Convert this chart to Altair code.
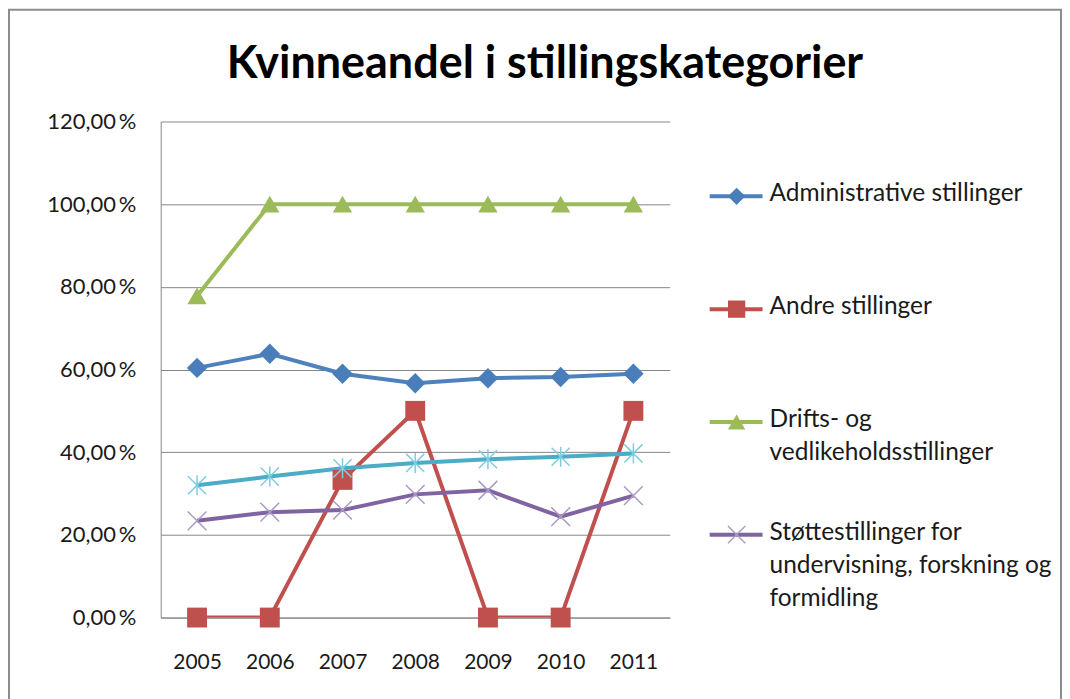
import altair as alt
import pandas as pd

years = ["2005", "2006", "2007", "2008", "2009", "2010", "2011"]
series_names = [
    "Administrative stillinger",
    "Andre stillinger",
    "Drifts- og vedlikeholdsstillinger",
    "Støttestillinger for undervisning, forskning og formidling",
    "Serie 5",
]
admin = [60.4, 63.8, 59.0, 56.7, 57.9, 58.2, 59.0]
andre = [0.0, 0.0, 33.3, 50.0, 0.0, 0.0, 50.0]
drift = [77.8, 100.0, 100.0, 100.0, 100.0, 100.0, 100.0]
stotte = [23.4, 25.5, 26.0, 29.8, 30.8, 24.4, 29.5]
serie5 = [32.0, 34.1, 36.1, 37.4, 38.3, 38.9, 39.7]
legend_labels = [
    "Administrative stillinger",
    "Andre stillinger",
    "Drifts- og|vedlikeholdsstillinger",
    "Støttestillinger for|undervisning, forskning og|formidling",
]
title_text = "Kvinneandel i stillingskategorier"

values = [admin, andre, drift, stotte, serie5]
rows = []
for name, vals in zip(series_names, values):
    for y, v in zip(years, vals):
        rows.append({"year": y, "series": name, "value": v})
df = pd.DataFrame(rows)

filled_series = series_names[:3]
outline_series = series_names[3:]

line_colors = ["#4F81BD", "#C0504D", "#9BBB59", "#8064A2", "#4BACC6"]
fill_colors = ["#4A7EBB", "#C0504D", "#9BBB59"]
outline_colors = ["#A99BC6", "#7FCCE0"]
x_path = "M-1,-1L1,1M-1,1L1,-1"
star_path = "M-1,-1L1,1M-1,1L1,-1M0,-1.1L0,1.1"
shapes = ["diamond", "square", "triangle-up", x_path, star_path]
marker_sizes = [420, 330, 380, 320, 330]
legend_marker_sizes = [300, 300, 300, 260, 260]

FONT = "Lato"
TXT = "#1a1a1a"
color_scale = alt.Scale(domain=series_names, range=line_colors)
fill_scale = alt.Scale(domain=filled_series, range=fill_colors)
stroke_scale = alt.Scale(domain=outline_series, range=outline_colors)
shape_scale = alt.Scale(domain=series_names, range=shapes)
size_scale = alt.Scale(domain=series_names, range=marker_sizes)
leg_size_scale = alt.Scale(domain=series_names, range=legend_marker_sizes)
no_view = alt.ViewBackground(stroke="transparent", strokeWidth=0)

x_enc = alt.X(
    "year:N",
    sort=years,
    scale=alt.Scale(paddingInner=0, paddingOuter=0.5),
    axis=alt.Axis(
        title=None, labelAngle=0, labelFontSize=21, labelColor=TXT,
        labelFont=FONT, ticks=False, domain=True, domainColor="#868686",
        labelPadding=34, grid=False,
    ),
)
y_enc = alt.Y(
    "value:Q",
    scale=alt.Scale(domain=[0, 120], nice=False),
    axis=alt.Axis(
        title=None, values=[0, 20, 40, 60, 80, 100, 120],
        labelExpr="replace(format(datum.value, '.2f'), '.', ',') + '\u2009%'",
        labelFontSize=22, labelColor=TXT, labelFont=FONT,
        ticks=False, labelPadding=25, domain=True, domainColor="#868686",
        grid=True, gridColor="#868686", gridWidth=1,
    ),
)

base = alt.Chart(df)
one_row = base.transform_filter("datum.year == '2005' && datum.series == 'Serie 5'")
lines = base.mark_line(strokeWidth=4, clip=True).encode(
    x=x_enc, y=y_enc,
    color=alt.Color("series:N", scale=color_scale, legend=None),
)
pts_filled = base.transform_filter(
    alt.FieldOneOfPredicate(field="series", oneOf=filled_series)
).mark_point(filled=True, opacity=1, strokeWidth=0).encode(
    x=x_enc, y=y_enc,
    fill=alt.Fill("series:N", scale=fill_scale, legend=None),
    shape=alt.Shape("series:N", scale=shape_scale, legend=None),
    size=alt.Size("series:N", scale=size_scale, legend=None),
)
pts_outline = base.transform_filter(
    alt.FieldOneOfPredicate(field="series", oneOf=outline_series)
).mark_point(filled=False, opacity=1, strokeWidth=1.5).encode(
    x=x_enc, y=y_enc,
    stroke=alt.Stroke("series:N", scale=stroke_scale, legend=None),
    shape=alt.Shape("series:N", scale=shape_scale, legend=None),
    size=alt.Size("series:N", scale=size_scale, legend=None),
)
border = one_row.mark_rect(
    fill="transparent", stroke="#8C8C8C", strokeWidth=2, clip=False
).encode(
    x=alt.value(-152), x2=alt.value(902), y=alt.value(-112), y2=alt.value(640)
)
title = one_row.mark_text(
    text=title_text, fontSize=45, font=FONT, fontWeight="bold", color="#000000",
    align="center", baseline="alphabetic",
).encode(x=alt.value(385), y=alt.value(-44))

main = alt.layer(border, title, lines, pts_filled, pts_outline).properties(
    width=510, height=497, view=no_view
)

# legend panel
leg_df = pd.DataFrame({"series": series_names[:4], "label": legend_labels})
leg_y = alt.Y(
    "series:N", sort=series_names[:4],
    scale=alt.Scale(type="point", range=[75, 414], padding=0), axis=None,
)
leg_base = alt.Chart(leg_df)
leg_rule = leg_base.mark_rule(strokeWidth=4).encode(
    x=alt.value(40), x2=alt.value(93), y=leg_y,
    color=alt.Color("series:N", scale=color_scale, legend=None),
)
leg_fill = leg_base.transform_filter(
    alt.FieldOneOfPredicate(field="series", oneOf=filled_series)
).mark_point(filled=True, opacity=1, strokeWidth=0).encode(
    x=alt.value(67), y=leg_y,
    fill=alt.Fill("series:N", scale=fill_scale, legend=None),
    shape=alt.Shape("series:N", scale=shape_scale, legend=None),
    size=alt.Size("series:N", scale=leg_size_scale, legend=None),
)
leg_out = leg_base.transform_filter(
    alt.FieldOneOfPredicate(field="series", oneOf=outline_series)
).mark_point(filled=False, opacity=1, strokeWidth=1.4).encode(
    x=alt.value(67), y=leg_y,
    stroke=alt.Stroke("series:N", scale=stroke_scale, legend=None),
    shape=alt.Shape("series:N", scale=shape_scale, legend=None),
    size=alt.Size("series:N", scale=leg_size_scale, legend=None),
)
leg_text = leg_base.mark_text(
    align="left", baseline="top", dy=-14, fontSize=24.5, font=FONT,
    lineBreak="|", lineHeight=33, color=TXT,
).encode(x=alt.value(100), y=leg_y, text="label:N")
legend_panel = alt.layer(leg_rule, leg_fill, leg_out, leg_text).properties(
    width=390, height=497, view=no_view
)

chart = alt.hconcat(main, legend_panel, spacing=0, bounds="flush").properties(
    padding={"left": 0, "top": 0, "right": 0, "bottom": 0},
).resolve_scale(
    color="independent", fill="independent", stroke="independent",
    shape="independent", y="independent", size="independent",
).configure_view(strokeWidth=0, stroke="transparent").configure(background="white")

chart.save("out.html", embed_options={"renderer": "svg", "actions": False})
